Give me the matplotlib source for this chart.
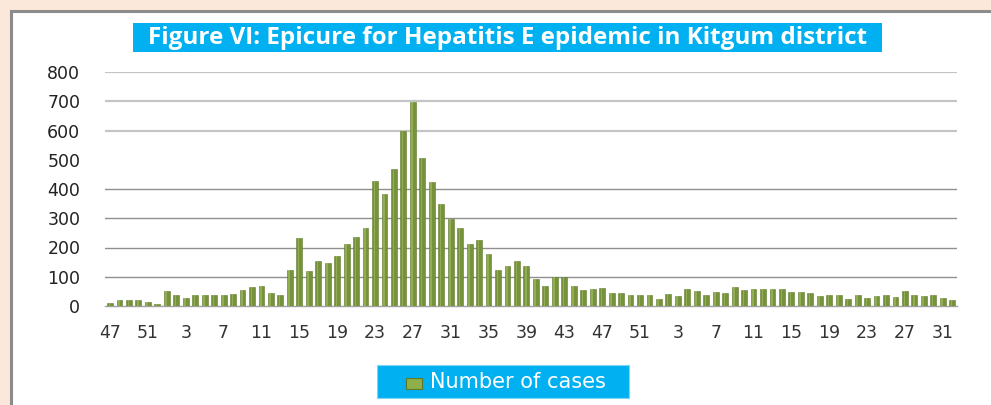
import matplotlib
matplotlib.use("Agg")
import matplotlib.pyplot as plt
from matplotlib.patches import Rectangle
import numpy as np

# ---- data ----
weeks = list(range(47, 53)) + list(range(1, 53)) + list(range(1, 33))
cases_yr1 = [10, 20, 19, 19, 12, 8]
cases_yr2 = [50, 37, 26, 37, 37, 37, 37, 40, 54, 66,
             70, 43, 37, 122, 232, 119, 155, 148, 171, 212,
             237, 267, 429, 384, 468, 600, 699, 505, 423, 349,
             297, 267, 212, 224, 179, 122, 136, 155, 136, 92,
             70, 99, 99, 70, 54, 59, 63, 43, 43, 37,
             37, 37]
cases_yr3 = [23, 40, 33, 57, 50, 37, 47, 43, 66, 54,
             57, 57, 57, 57, 47, 47, 43, 33, 37, 37,
             23, 37, 26, 33, 37, 30, 50, 37, 33, 37,
             26, 19]
cases = cases_yr1 + cases_yr2 + cases_yr3
y_ticks = [0, 100, 200, 300, 400, 500, 600, 700, 800]
title = "Figure VI: Epicure for Hepatitis E epidemic in Kitgum district"
series_name = "Number of cases"

W, H = 991, 405
fig = plt.figure(figsize=(W / 100, H / 100), dpi=100, facecolor="#FCE8DA")

# white panel with grey border (behind everything)
fig.patches.append(Rectangle((11 / W, -0.2), 1.3, (H - 11) / H + 0.2,
                             transform=fig.transFigure, facecolor="white",
                             edgecolor="#8c8c8c", linewidth=2.2, zorder=-5))

ax = fig.add_axes([105.3 / W, 1 - 306 / H, (957 - 105.3) / W, (306 - 72) / H])
ax.set_facecolor("none")
ax.set_zorder(2)

x = np.arange(len(cases))
ax.bar(x, cases, width=0.62, color="#76933C", edgecolor="#5f7a2c",
       linewidth=0.4, zorder=3)
ax.bar(x - 0.07, cases, width=0.16, color="#a9c765", alpha=0.55,
       linewidth=0, zorder=4)

ax.set_xlim(-0.5, len(cases) - 0.5)
ax.set_ylim(0, 800)
ax.set_yticks(y_ticks)
ax.set_yticklabels([str(v) for v in y_ticks])
ax.set_xticks(x[::4])
ax.set_xticklabels([str(w) for w in weeks[::4]])

ax.tick_params(axis="y", length=0, pad=18, labelsize=12.5, labelcolor="#222222")
ax.tick_params(axis="x", length=0, pad=13, labelsize=12.5, labelcolor="#333333")

for s in ["top", "right", "left"]:
    ax.spines[s].set_visible(False)
ax.spines["bottom"].set_color("#a0a0a0")
ax.spines["bottom"].set_linewidth(1.0)

for v in y_ticks[1:]:
    if v == 500:
        continue
    col = "#c4c4c4" if v >= 600 else "#8f8f8f"
    lw = 1.6 if v >= 600 else 1.0
    ax.axhline(v, color=col, linewidth=lw, zorder=1)

# title box
fig.patches.append(Rectangle((133 / W, 1 - 52 / H), (882 - 133) / W, 29 / H,
                             transform=fig.transFigure, facecolor="#00B0F0",
                             edgecolor="none", zorder=1))
fig.text((133 + 882) / 2 / W, 1 - 38 / H, title, ha="center", va="center",
         color="white", fontsize=17.5, fontweight="bold", family="Open Sans", zorder=2)

# legend box
fig.patches.append(Rectangle((377 / W, 1 - 398 / H), (629 - 377) / W, 33 / H,
                             transform=fig.transFigure, facecolor="#00B0F0",
                             edgecolor="#7fd6f5", linewidth=0.8, zorder=1))
fig.patches.append(Rectangle((406 / W, 1 - 389 / H), 16 / W, 11 / H,
                             transform=fig.transFigure, facecolor="#8db04a",
                             edgecolor="#5e7a28", linewidth=0.8, zorder=2))
fig.text(430 / W, 1 - 382 / H, series_name, ha="left", va="center",
         color="white", fontsize=15, family="DejaVu Sans", zorder=2)

fig.savefig("out.png", dpi=100, facecolor=fig.get_facecolor())
